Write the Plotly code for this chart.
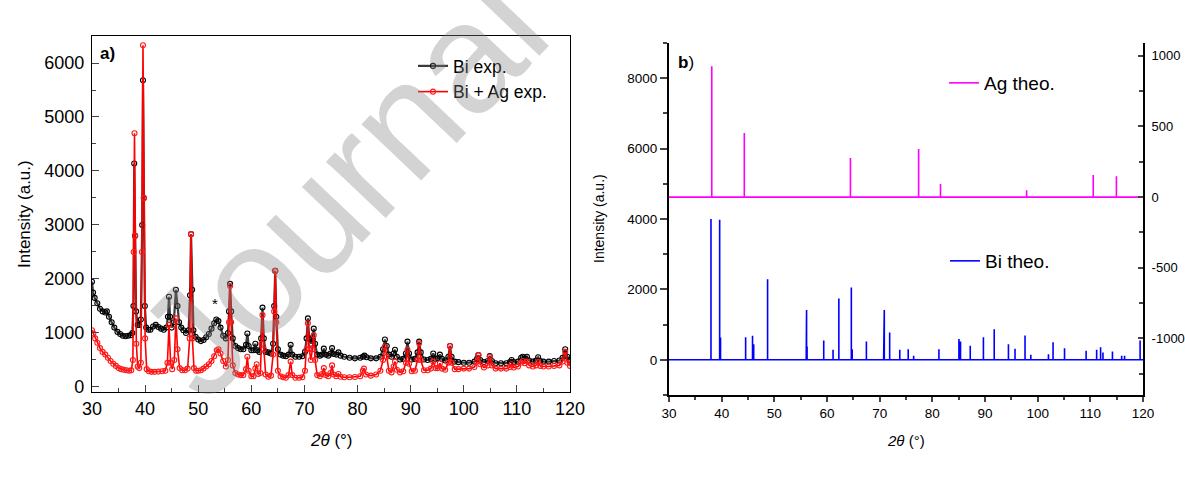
import plotly.graph_objects as go

W, H = 1185, 477
FONT = "Arial, 'Liberation Sans', sans-serif"

# ---------------- data ----------------
bi_exp_2theta = [30.0, 30.2, 30.5, 31.0, 31.5, 32.0, 32.5, 32.8, 33.2, 33.7, 34.2, 34.8, 35.3, 35.8, 36.3, 36.8, 37.3, 37.6, 37.8, 37.95, 38.1, 38.3, 38.6, 38.9, 39.2, 39.45, 39.6, 39.75, 39.95, 40.2, 40.6, 41.0, 41.5, 42.0, 42.5, 43.0, 43.5, 44.0, 44.3, 44.5, 44.7, 45.0, 45.4, 45.8, 46.1, 46.4, 46.8, 47.2, 47.7, 48.2, 48.45, 48.65, 48.85, 49.1, 49.5, 50.0, 50.5, 51.0, 51.5, 52.0, 52.5, 53.0, 53.4, 53.8, 54.2, 54.7, 55.2, 55.6, 55.8, 56.0, 56.2, 56.5, 57.0, 57.5, 58.0, 58.5, 59.0, 59.25, 59.5, 60.0, 60.4, 60.75, 61.1, 61.5, 61.85, 62.1, 62.35, 62.7, 63.2, 63.7, 64.1, 64.3, 64.5, 64.7, 65.0, 65.5, 66.0, 66.5, 67.0, 67.4, 67.7, 68.3, 69.0, 69.6, 70.1, 70.4, 70.65, 70.9, 71.2, 71.5, 71.75, 72.0, 72.4, 72.9, 73.3, 73.65, 74.0, 74.5, 74.9, 75.2, 75.5, 76.0, 76.4, 76.8, 77.5, 78.5, 79.5, 80.5, 81.0, 81.3, 81.7, 82.5, 83.5, 84.3, 84.8, 85.15, 85.5, 85.9, 86.4, 86.8, 87.05, 87.4, 88.0, 88.6, 89.1, 89.4, 89.7, 90.2, 90.8, 91.3, 91.6, 91.9, 92.5, 93.2, 93.8, 94.25, 94.7, 95.1, 95.5, 95.9, 96.5, 97.1, 97.4, 97.7, 98.3, 99.0, 100.0, 101.0, 102.0, 102.5, 102.75, 103.1, 103.8, 104.5, 104.9, 105.3, 106.0, 107.0, 108.0, 108.7, 109.0, 109.4, 110.2, 110.8, 111.1, 111.5, 111.9, 112.3, 113.0, 113.6, 114.0, 114.4, 115.0, 116.0, 117.0, 118.0, 118.6, 119.1, 119.5, 120.0]
bi_exp_int = [1950, 1750, 1650, 1550, 1450, 1400, 1380, 1400, 1300, 1200, 1100, 1020, 980, 950, 940, 950, 960, 1000, 1500, 4140, 2800, 1400, 1150, 1150, 1250, 3000, 5680, 3500, 1500, 1100, 1060, 1060, 1120, 1150, 1110, 1080, 1060, 1100, 1300, 1670, 1300, 1100, 1200, 1800, 1500, 1200, 1100, 1050, 1000, 1050, 1700, 2830, 1800, 1050, 930, 880, 850, 870, 920, 980, 1080, 1180, 1250, 1220, 1100, 950, 900, 1000, 1400, 1910, 1400, 900, 760, 720, 700, 700, 780, 990, 760, 680, 680, 800, 680, 650, 900, 1470, 900, 650, 640, 620, 800, 1500, 2150, 1300, 700, 600, 580, 570, 600, 780, 600, 560, 560, 570, 650, 900, 1270, 900, 800, 900, 1080, 800, 600, 580, 600, 710, 600, 580, 620, 720, 610, 600, 640, 580, 560, 540, 530, 540, 560, 580, 550, 530, 530, 560, 700, 880, 760, 600, 560, 620, 690, 560, 510, 520, 620, 840, 620, 510, 520, 640, 840, 640, 510, 500, 520, 620, 520, 530, 600, 520, 490, 560, 760, 560, 470, 460, 450, 450, 470, 520, 590, 500, 460, 480, 575, 480, 440, 440, 440, 460, 500, 460, 470, 540, 560, 530, 560, 490, 470, 490, 550, 480, 470, 470, 480, 490, 540, 700, 560, 500]

biag_exp_2theta = [30.0, 30.25, 30.6, 31.0, 31.5, 32.0, 32.5, 33.0, 33.5, 34.0, 34.5, 35.0, 35.5, 36.0, 36.5, 37.0, 37.4, 37.7, 37.85, 38.0, 38.15, 38.35, 38.6, 38.9, 39.2, 39.4, 39.6, 39.8, 40.0, 40.3, 40.7, 41.2, 41.8, 42.5, 43.2, 43.8, 44.2, 44.5, 44.8, 45.1, 45.5, 45.8, 46.1, 46.5, 47.0, 47.5, 48.0, 48.4, 48.65, 48.9, 49.2, 49.6, 50.0, 50.5, 51.0, 51.5, 52.0, 52.5, 53.0, 53.5, 53.8, 54.2, 54.7, 55.2, 55.6, 55.8, 56.0, 56.2, 56.5, 57.0, 57.5, 58.0, 58.5, 59.0, 59.25, 59.5, 60.0, 60.4, 60.75, 61.0, 61.3, 61.7, 61.9, 62.1, 62.35, 62.7, 63.2, 63.7, 64.1, 64.3, 64.5, 64.7, 65.0, 65.5, 66.0, 66.5, 67.0, 67.4, 67.7, 68.3, 69.0, 69.6, 70.1, 70.4, 70.65, 70.9, 71.2, 71.5, 71.75, 72.0, 72.4, 72.9, 73.3, 73.65, 74.0, 74.5, 74.9, 75.2, 75.5, 76.0, 76.4, 76.8, 77.5, 78.5, 79.5, 80.5, 81.0, 81.2, 81.6, 82.5, 83.5, 84.3, 84.8, 85.15, 85.5, 85.9, 86.4, 86.8, 87.05, 87.4, 88.0, 88.6, 89.1, 89.4, 89.7, 90.2, 90.8, 91.3, 91.6, 91.9, 92.5, 93.2, 93.8, 94.25, 94.7, 95.1, 95.5, 95.9, 96.5, 97.1, 97.4, 97.7, 98.3, 99.0, 100.0, 101.0, 102.0, 102.5, 102.75, 103.1, 103.8, 104.5, 104.9, 105.3, 106.0, 107.0, 108.0, 108.7, 109.0, 109.4, 110.2, 110.8, 111.1, 111.5, 111.9, 112.3, 113.0, 113.6, 114.0, 114.4, 115.0, 116.0, 117.0, 118.0, 118.6, 119.1, 119.5, 120.0]
biag_exp_int = [1050, 990, 900, 820, 720, 650, 600, 540, 480, 430, 390, 350, 330, 320, 310, 300, 310, 500, 2500, 4700, 2800, 800, 380, 350, 450, 2500, 6330, 3500, 900, 330, 290, 280, 280, 285, 290, 300, 450, 1150, 450, 330, 500, 1270, 700, 350, 310, 310, 340, 900, 2830, 900, 350, 300, 300, 310, 340, 380, 420, 480, 570, 680, 700, 620, 480, 380, 500, 1200, 1870, 1200, 400, 260, 230, 220, 220, 330, 560, 300, 200, 200, 340, 420, 240, 260, 800, 1330, 700, 230, 190, 210, 600, 1400, 2150, 1200, 300, 200, 180, 170, 220, 470, 220, 170, 170, 180, 300, 700, 1180, 700, 500, 700, 960, 500, 220, 200, 240, 350, 220, 200, 260, 400, 230, 200, 240, 190, 180, 180, 185, 200, 300, 340, 230, 210, 230, 300, 500, 750, 560, 300, 270, 380, 470, 320, 270, 290, 450, 690, 430, 290, 300, 500, 810, 500, 310, 310, 340, 470, 350, 350, 440, 340, 320, 450, 760, 450, 330, 330, 340, 340, 370, 470, 590, 420, 360, 400, 560, 400, 340, 340, 340, 370, 420, 360, 380, 450, 480, 440, 470, 400, 380, 400, 460, 390, 380, 380, 390, 400, 470, 650, 450, 390]

ag_theo_2theta = [38.12, 44.30, 64.45, 77.40, 81.55, 97.90, 110.55, 114.95]
ag_theo_int = [926, 453, 276, 340, 92, 49, 156, 148]

bi_theo_2theta = [37.97, 39.62, 39.78, 44.55, 45.86, 46.08, 48.72, 56.05, 56.12, 56.22, 59.38, 61.15, 62.25, 64.62, 64.78, 67.48, 70.75, 70.88, 71.9, 73.82, 75.42, 76.45, 81.25, 85.05, 85.35, 87.2, 89.7, 91.75, 94.45, 95.7, 97.6, 98.7, 102.05, 102.92, 105.1, 109.2, 111.2, 111.95, 112.4, 114.2, 115.95, 116.5, 119.45]
bi_theo_int = [4000, 3980, 630, 640, 680, 440, 2290, 1180, 1414, 377, 547, 283, 1744, 2055, 302, 519, 566, 1414, 773, 283, 302, 113, 302, 594, 519, 396, 641, 867, 443, 311, 688, 141, 160, 500, 330, 255, 283, 358, 207, 236, 113, 113, 547]

x_range = [30, 120]
a_yticks = [0, 1000, 2000, 3000, 4000, 5000, 6000]
b_left_yticks = [0, 2000, 4000, 6000, 8000]
b_right_yticks = [-1000, -500, 0, 500, 1000]


def sticks(pos, inten, lo, hi):
    xs, ys = [lo], [0]
    for p, h in sorted(zip(pos, inten)):
        xs += [p, p, p]
        ys += [0, h, 0]
    xs.append(hi)
    ys.append(0)
    return xs, ys


def px(x):
    return x / W


def py(y):
    return 1 - y / H


fig = go.Figure()

fig.add_trace(go.Scatter(
    x=bi_exp_2theta, y=bi_exp_int, mode="lines+markers", name="Bi exp.",
    line=dict(color="#3a3a3a", width=2.2),
    marker=dict(symbol="circle-open", size=5, color="black", line=dict(width=1.1)),
    xaxis="x", yaxis="y", legend="legend"))
fig.add_trace(go.Scatter(
    x=biag_exp_2theta, y=biag_exp_int, mode="lines+markers", name="Bi + Ag exp.",
    line=dict(color="#ff0000", width=1.6),
    marker=dict(symbol="circle-open", size=5, color="#ff1a1a", line=dict(width=1.1)),
    xaxis="x", yaxis="y", legend="legend"))

agx, agy = sticks(ag_theo_2theta, ag_theo_int, x_range[0], x_range[1])
bix, biy = sticks(bi_theo_2theta, bi_theo_int, x_range[0], x_range[1])
fig.add_trace(go.Scatter(
    x=agx, y=agy, mode="lines", name="Ag theo.",
    line=dict(color="#ff00ff", width=1.6),
    xaxis="x2", yaxis="y3", legend="legend2"))
fig.add_trace(go.Scatter(
    x=bix, y=biy, mode="lines", name="Bi theo.",
    line=dict(color="#0000ff", width=1.6),
    xaxis="x2", yaxis="y2", legend="legend3"))

axis_common = dict(showgrid=False, zeroline=False, showline=True, linecolor="black",
                   automargin=False)

fig.update_layout(
    width=W, height=H,
    margin=dict(l=0, r=0, t=0, b=0, autoexpand=False),
    paper_bgcolor="white", plot_bgcolor="white",
    font=dict(family=FONT, color="black"),
    xaxis=dict(**axis_common, domain=[px(92), px(570)], range=x_range, anchor="y",
               tickmode="linear", tick0=30, dtick=10, ticks="inside", ticklen=7,
               tickwidth=1.3, linewidth=1.3, mirror=True, tickfont=dict(size=18),
               minor=dict(ticks="inside", ticklen=4, dtick=5, tick0=30, tickwidth=1.3)),
    yaxis=dict(**axis_common, domain=[py(392), py(36)], range=[-93, 6500], anchor="x",
               tickmode="array", tickvals=a_yticks, ticks="inside", ticklen=7,
               tickwidth=1.3, linewidth=1.3, mirror=True, tickfont=dict(size=18),
               ticklabelstandoff=3,
               minor=dict(ticks="inside", ticklen=4, dtick=500, tick0=0, tickwidth=1.3)),
    xaxis2=dict(**axis_common, domain=[px(669), px(1143)], range=x_range, anchor="y2",
                tickmode="linear", tick0=30, dtick=10, ticks="outside", ticklen=5,
                tickwidth=1.5, linewidth=2, tickfont=dict(size=13.5),
                minor=dict(ticks="outside", ticklen=3, dtick=5, tick0=30, tickwidth=1.5)),
    xaxis4=dict(**axis_common, range=x_range, anchor="y2", overlaying="x2", side="top",
                tickmode="linear", tick0=30, dtick=10, ticks="inside", ticklen=5,
                tickwidth=1.5, linewidth=2, showticklabels=False,
                minor=dict(ticks="inside", ticklen=3, dtick=5, tick0=30, tickwidth=1.5)),
    yaxis2=dict(**axis_common, domain=[py(395), py(43)], range=[-1000, 9000], anchor="x2",
                tickmode="array", tickvals=b_left_yticks, ticks="outside", ticklen=7,
                tickwidth=1.5, linewidth=2, tickfont=dict(size=13.5),
                minor=dict(ticks="outside", ticklen=4, dtick=1000, tick0=0, tickwidth=1.5)),
    yaxis3=dict(**axis_common, range=[-1400, 1090], anchor="x2", overlaying="y2", side="right",
                tickmode="array", tickvals=b_right_yticks,
                ticktext=[str(v) for v in b_right_yticks],
                ticks="inside", ticklen=5, tickwidth=1.5, linewidth=2, tickfont=dict(size=13),
                ticklabelstandoff=4,
                minor=dict(ticks="inside", ticklen=4, dtick=250, tick0=0, tickwidth=1.5)),
    legend=dict(x=px(413), y=py(48), xanchor="left", yanchor="top",
                bgcolor="rgba(0,0,0,0)", font=dict(size=17.5), tracegroupgap=0),
    legend2=dict(x=px(944), y=py(64), xanchor="left", yanchor="top",
                 bgcolor="rgba(0,0,0,0)", font=dict(size=19)),
    legend3=dict(x=px(945), y=py(242), xanchor="left", yanchor="top",
                 bgcolor="rgba(0,0,0,0)", font=dict(size=19)),
    showlegend=True,
)

annotations = [
    dict(text="<b>a)</b>", x=px(98), y=py(53), xanchor="left", yanchor="middle",
         font=dict(size=17)),
    dict(text="<b>b</b>)", x=px(676), y=py(62), xanchor="left", yanchor="middle",
         font=dict(size=17)),
    dict(text="Intensity (a.u.)", x=px(24), y=py(214), textangle=-90,
         font=dict(size=17)),
    dict(text="Intensity (a.u.)", x=px(599), y=py(219), textangle=-90,
         font=dict(size=14)),
    dict(text="<i>2\u03b8</i> (\u00b0)", x=px(331), y=py(440), font=dict(size=17)),
    dict(text="<i>2\u03b8</i> (\u00b0)", x=px(906), y=py(440), font=dict(size=15)),
    dict(text="*", x=53.2, y=1555, xref="x", yref="y", font=dict(size=15)),
    dict(text="Journal Pre-proof", x=px(580), y=py(-64), textangle=-46.5,
         font=dict(size=155, color="rgba(128,128,128,0.35)")),
]
for a in annotations:
    a.setdefault("xref", "paper")
    a.setdefault("yref", "paper")
    a.setdefault("showarrow", False)
    a.setdefault("xanchor", "center")
    a.setdefault("yanchor", "middle")
    a.setdefault("font", {})
    a["font"].setdefault("family", FONT)
    a["font"].setdefault("color", "black")
fig.update_layout(annotations=annotations)

fig.write_html("out.html")
